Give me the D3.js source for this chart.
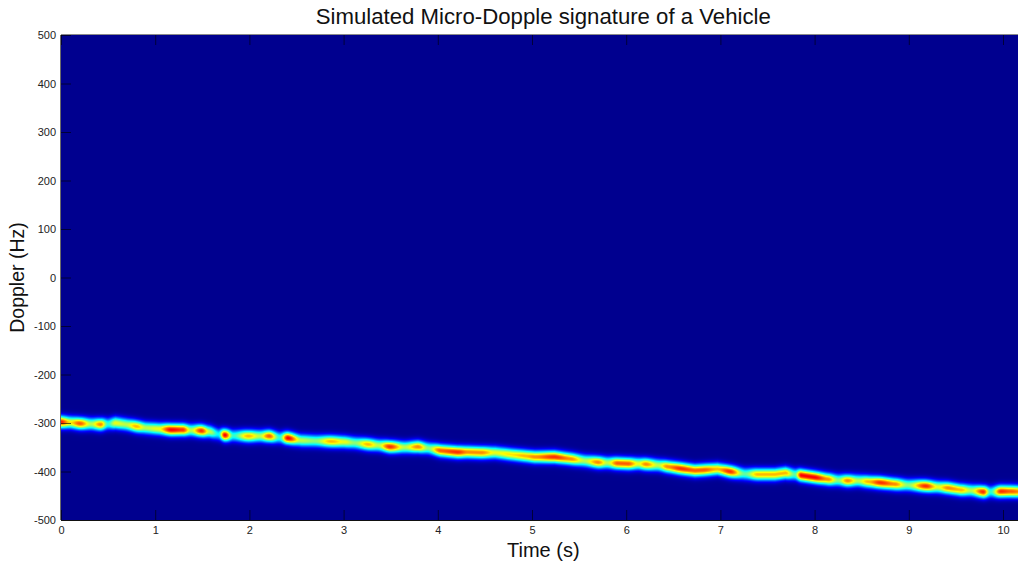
<!DOCTYPE html>
<html><head><meta charset="utf-8">
<script src="https://cdn.jsdelivr.net/npm/d3@7"></script>
<style>body{margin:0;background:#fff;} svg{display:block;font-family:"Liberation Sans",Arial,Helvetica,sans-serif;}</style>
</head><body><script>
// ---- data ----
const ridgeTime = [0.00,0.10,0.20,0.32,0.42,0.50,0.58,0.69,0.80,0.90,1.03,1.17,1.29,1.38,1.49,1.58,1.67,1.74,1.83,1.99,2.11,2.21,2.32,2.41,2.55,2.70,2.87,3.01,3.12,3.26,3.37,3.49,3.65,3.79,3.90,4.03,4.21,4.32,4.46,4.61,4.78,4.93,5.03,5.24,5.41,5.56,5.70,5.80,5.91,6.02,6.13,6.21,6.34,6.44,6.58,6.73,6.82,6.97,7.10,7.26,7.40,7.58,7.69,7.79,7.86,8.00,8.14,8.25,8.35,8.46,8.57,8.70,8.85,8.99,9.18,9.31,9.42,9.55,9.66,9.79,9.87,9.98,10.08,10.24];
const ridgeDoppler = [-298,-299,-301,-302,-303,-302,-300,-303,-307,-310,-312,-314,-314,-315,-316,-318,-323,-325,-326,-327,-327,-327,-330,-331,-336,-337,-338,-339,-341,-344,-346,-349,-350,-349,-352,-357,-360,-360,-361,-361,-365,-368,-370,-370,-374,-378,-381,-382,-383,-384,-384,-385,-387,-390,-394,-398,-397,-395,-400,-405,-406,-406,-403,-406,-408,-412,-416,-418,-419,-419,-421,-423,-426,-428,-430,-432,-434,-438,-439,-442,-442,-441,-441,-442];
const ridgeIntensity = [0.92,0.7,0.85,0.6,0.8,0.45,0.65,0.6,0.75,0.6,0.65,0.95,0.9,0.6,0.9,0.6,0.4,0.95,0.45,0.75,0.6,0.85,0.45,0.95,0.6,0.55,0.75,0.65,0.55,0.75,0.6,0.9,0.6,0.8,0.55,0.85,0.9,0.8,0.8,0.65,0.7,0.75,0.8,0.9,0.8,0.6,0.8,0.6,0.85,0.85,0.65,0.8,0.6,0.8,0.9,0.85,0.85,0.75,0.9,0.5,0.75,0.75,0.75,0.5,0.95,0.95,0.8,0.55,0.8,0.6,0.75,0.9,0.8,0.55,0.9,0.65,0.8,0.75,0.6,0.9,0.45,0.9,0.85,0.75];
const xTicks = [0,1,2,3,4,5,6,7,8,9,10];
const yTicks = [-500,-400,-300,-200,-100,0,100,200,300,400,500];
const titleText = "Simulated Micro-Dopple signature of a Vehicle";
const xLabel = "Time (s)";
const yLabel = "Doppler (Hz)";

// ---- layout ----
const W = 1018, H = 563;
const tMax = 10.24;
const x = d3.scaleLinear().domain([0, tMax]).range([61, 61 + 94.2 * tMax]);
const y = d3.scaleLinear().domain([-500, 500]).range([520, 35]);

const svg = d3.select("body").append("svg").attr("width", W).attr("height", H);

// jet colormap (MATLAB jet(64))
function jet(v) {
  v = Math.max(0, Math.min(1, v));
  const s = 1/64 + v * 63/64;
  const c = q => Math.max(0, Math.min(1, q));
  return [c(Math.min(4*s - 1.5, -4*s + 4.5)), c(Math.min(4*s - 0.5, -4*s + 3.5)), c(Math.min(4*s + 0.5, -4*s + 2.5))].map(q => Math.round(q*255));
}

function ridgeAt(t) {
  let i = d3.bisectRight(ridgeTime, t) - 1;
  i = Math.max(0, Math.min(ridgeTime.length - 2, i));
  const t0 = ridgeTime[i], t1 = ridgeTime[i+1];
  let s = (t - t0) / (t1 - t0); s = Math.max(0, Math.min(1, s));
  const f = ridgeDoppler[i] + (ridgeDoppler[i+1] - ridgeDoppler[i]) * s;
  const cs = (1 - Math.cos(Math.PI * s)) / 2;
  const a = ridgeIntensity[i] + (ridgeIntensity[i+1] - ridgeIntensity[i]) * cs;
  return {f, a};
}

// spectrogram image
const px0 = Math.round(x(0)), px1 = Math.ceil(x(tMax));
const py0 = Math.round(y(500)), py1 = Math.round(y(-500));
const cw = px1 - px0, ch = py1 - py0;
const canvas = document.createElement("canvas");
canvas.width = cw; canvas.height = ch;
const ctx = canvas.getContext("2d");
const img = ctx.createImageData(cw, ch);
const sigma = 8.6;
for (let i = 0; i < cw; i++) {
  const t = x.invert(px0 + i + 0.5);
  const r = ridgeAt(t);
  for (let j = 0; j < ch; j++) {
    const fr = y.invert(py0 + j + 0.5);
    const d = (fr - r.f) / sigma;
    const v = r.a * Math.exp(-0.5 * d * d);
    const col = jet(v * 0.92);
    const k = (j * cw + i) * 4;
    img.data[k] = col[0]; img.data[k+1] = col[1]; img.data[k+2] = col[2]; img.data[k+3] = 255;
  }
}
ctx.putImageData(img, 0, 0);
svg.append("image").attr("x", px0).attr("y", py0).attr("width", cw).attr("height", ch)
  .attr("preserveAspectRatio", "none").attr("href", canvas.toDataURL());

// axes
const fmt = d => String(d);
const tickStyle = g => {
  g.select(".domain").remove();
  g.selectAll(".tick line").attr("stroke", "#000").attr("stroke-opacity", 0.6);
  g.selectAll(".tick text").attr("fill", "#222").attr("font-size", 11);
};
svg.append("g").attr("transform", `translate(0,${py1})`)
  .call(d3.axisBottom(x).tickValues(xTicks).tickSize(-10).tickPadding(6).tickFormat(fmt))
  .call(tickStyle);
svg.append("g").attr("transform", `translate(0,${py0})`)
  .call(d3.axisTop(x).tickValues(xTicks).tickSize(-10).tickFormat(""))
  .call(tickStyle);
svg.append("g").attr("transform", `translate(${px0},0)`)
  .call(d3.axisLeft(y).tickValues(yTicks).tickSize(-10).tickPadding(5).tickFormat(fmt))
  .call(tickStyle);

// box lines
svg.append("line").attr("x1", px0).attr("x2", W).attr("y1", py0 - 0.5).attr("y2", py0 - 0.5).attr("stroke", "#8a8a8a");
svg.append("line").attr("x1", px0 - 0.5).attr("x2", px0 - 0.5).attr("y1", py0).attr("y2", py1).attr("stroke", "#6a6a6a");
svg.append("line").attr("x1", px0).attr("x2", W).attr("y1", py1 + 0.5).attr("y2", py1 + 0.5).attr("stroke", "#111");

// titles
const cx = (x.range()[0] + x.range()[1]) / 2;
svg.append("text").attr("x", cx).attr("y", 23.5).attr("text-anchor", "middle")
  .attr("font-size", 22.2).attr("fill", "#111").text(titleText);
svg.append("text").attr("x", cx).attr("y", 556.5).attr("text-anchor", "middle")
  .attr("font-size", 20).attr("fill", "#111").text(xLabel);
svg.append("text").attr("transform", `translate(23.5,${(py0 + py1) / 2}) rotate(-90)`).attr("text-anchor", "middle")
  .attr("font-size", 19.5).attr("fill", "#111").text(yLabel);
</script></body></html>
